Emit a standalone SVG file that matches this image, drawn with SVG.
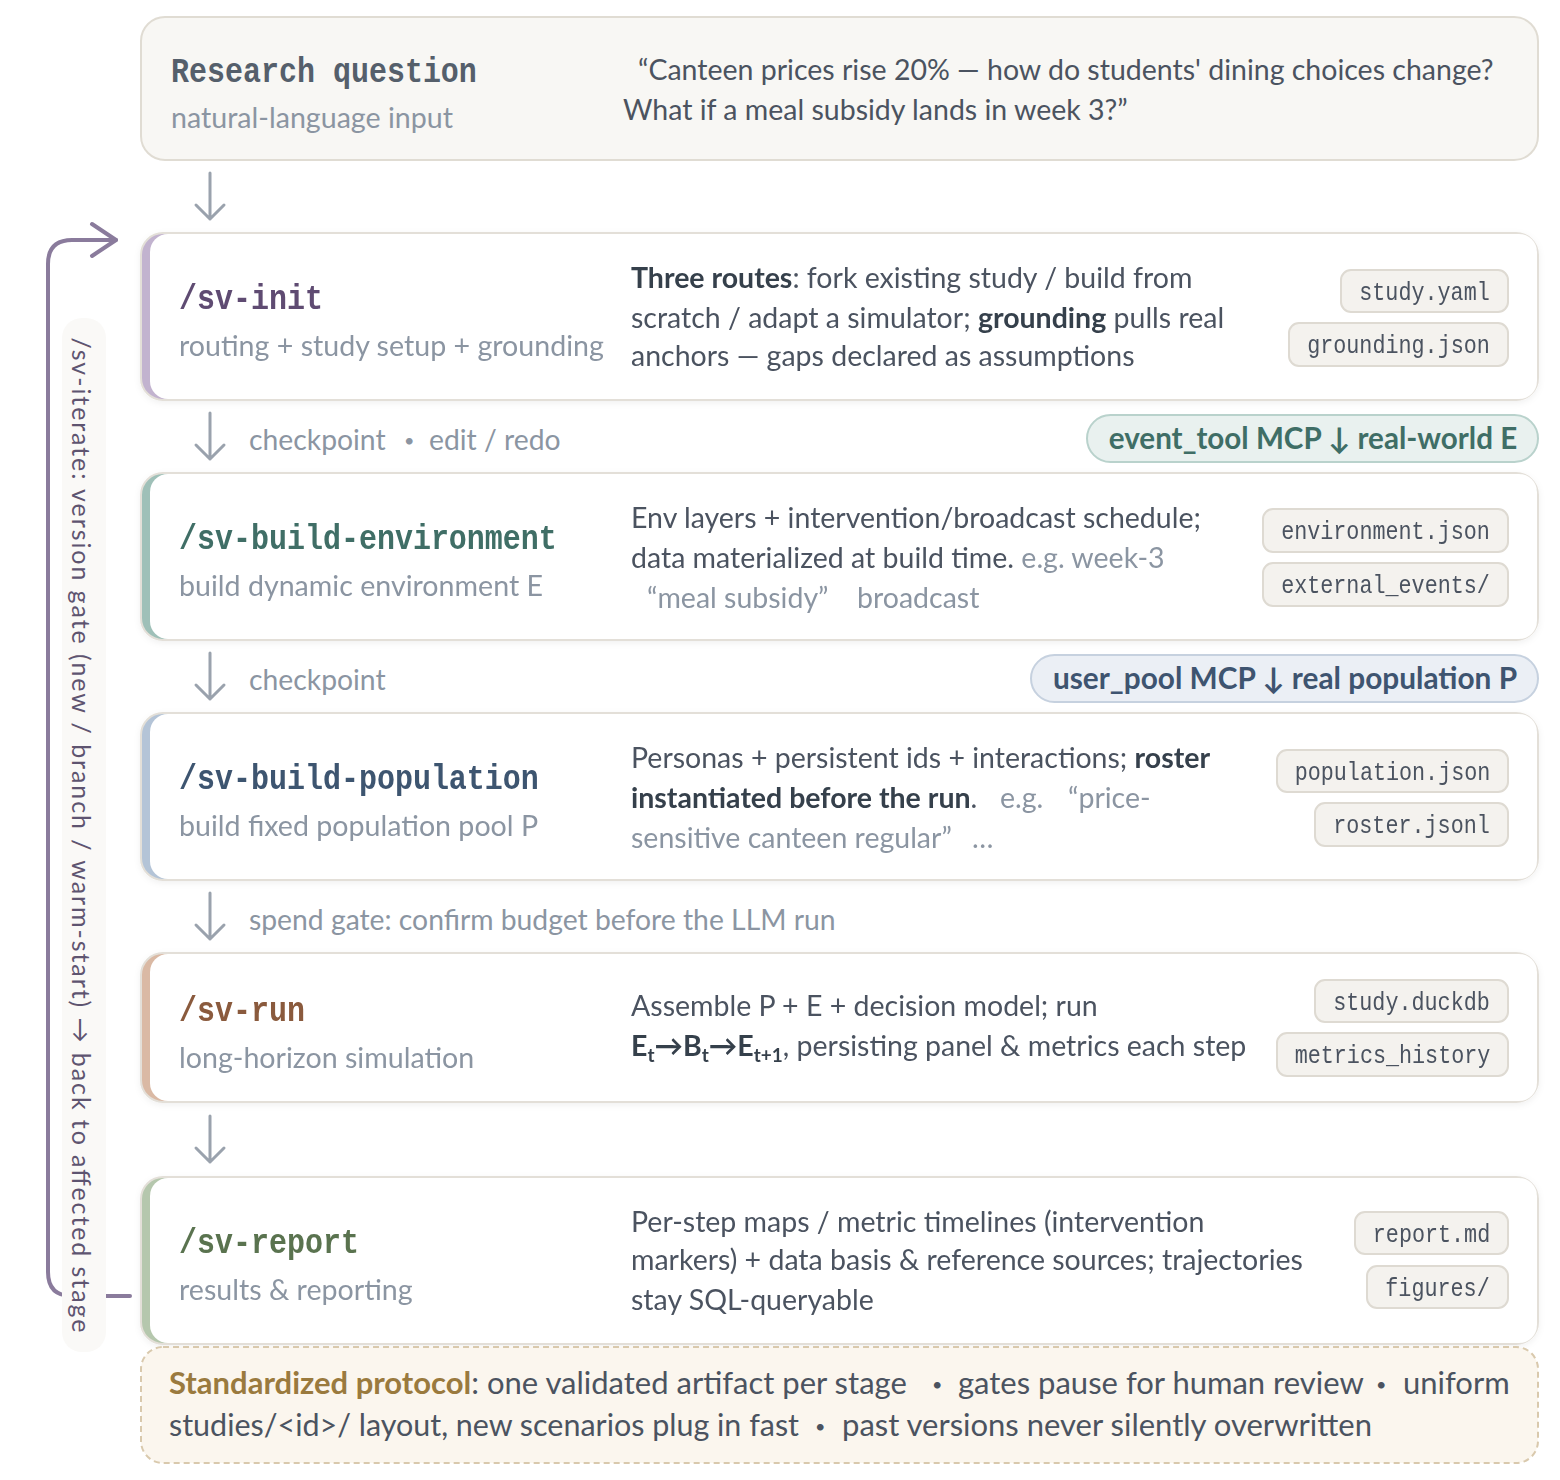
<svg xmlns="http://www.w3.org/2000/svg" width="1560" height="1480" viewBox="0 0 1560 1480">
<defs>
<filter id="sh" x="-5%" y="-20%" width="110%" height="140%">
<feDropShadow dx="0" dy="2" stdDeviation="3" flood-color="#000" flood-opacity="0.06"/>
</filter>
<style>
.sans{font-family:Lato,"Liberation Sans",sans-serif}
.title{font-family:"Liberation Mono","DejaVu Sans Mono",monospace;font-weight:bold;font-size:35px}
.sub{font-family:Lato,"Liberation Sans",sans-serif;font-size:28.6px;fill:#8b95a2}
.body{font-family:Lato,"Liberation Sans",sans-serif;font-size:28.5px;fill:#4b5360}
.prot{font-family:Lato,"Liberation Sans",sans-serif;font-size:31px;fill:#4b5360}
.b{font-weight:bold;fill:#36404c}
.g{fill:#8b95a2}
.gate{font-family:Lato,"Liberation Sans",sans-serif;font-size:28.3px;fill:#8b95a2}
.dot{font-family:Lato,"Liberation Sans",sans-serif;font-size:18px}
.chip rect{fill:#f4f2ee;stroke:#dedad2;stroke-width:2}
.chip text{font-family:"Liberation Mono","DejaVu Sans Mono",monospace;font-size:25px;fill:#4b5360;text-anchor:middle}
.frame{stroke:#e3dfd8;stroke-width:2}
.inner{fill:#ffffff}
.arr{fill:none;stroke:#9aa2ad;stroke-width:3;stroke-linecap:round;stroke-linejoin:round}
</style>
</defs>
<rect width="1560" height="1480" fill="#ffffff"/>

<g id="connectors">
<path class="arr" d="M210,173 V219 M196,205 L210,219 L224,205"/>
<path class="arr" d="M210,413 V459 M196,445 L210,459 L224,445"/>
<path class="arr" d="M210,653 V699 M196,685 L210,699 L224,685"/>
<path class="arr" d="M210,893 V939 M196,925 L210,939 L224,925"/>
<path class="arr" d="M210,1116 V1162 M196,1148 L210,1162 L224,1148"/>
<g id="iterate-loop">
<path d="M130,1296 H72 Q48,1296 48,1272 V264 Q48,240 72,240 H116" fill="none" stroke="#8a7b9c" stroke-width="4" stroke-linecap="round"/>
<path d="M92,224 L116,240 L92,256" fill="none" stroke="#8a7b9c" stroke-width="4" stroke-linecap="round" stroke-linejoin="round"/>
<rect x="62" y="318" width="44" height="1034" rx="20" fill="#faf9f7"/>
<text transform="translate(72,835) rotate(90)" text-anchor="middle" class="sans" font-size="25" fill="#5e5470" textLength="995" lengthAdjust="spacing">/sv-iterate: version gate (new / branch / warm-start) → back to affected stage</text>
</g>
<text class="gate" x="249" y="450">checkpoint</text>
<text class="gate dot" x="404" y="447">•</text>
<text class="gate" x="429" y="450">edit / redo</text>
<text class="gate" x="249" y="690">checkpoint</text>
<text class="gate" x="249" y="930">spend gate: confirm budget before the LLM run</text>
</g>

<g id="research-question">
<rect x="141" y="17" width="1397" height="143" rx="24" fill="#f8f7f4" stroke="#e0dcd3" stroke-width="2"/>
<text class="title" transform="translate(171,82) scale(0.857,1)" fill="#555f6b">Research question</text>
<text class="sub" x="171" y="128">natural-language input</text>
<text class="body" x="638" y="80">“Canteen prices rise 20% — how do students' dining choices change?</text>
<text class="body" x="623" y="120">What if a meal subsidy lands in week 3?”</text>
</g>

<g id="sv-init" filter="url(#sh)">
<rect class="frame" x="141" y="233" width="1397" height="167" rx="22" fill="#c2b3cf"/>
<rect class="inner" x="150" y="234" width="1387" height="165" rx="18"/>
<text class="title" transform="translate(179,309) scale(0.857,1)" fill="#5e4b72">/sv-init</text>
<text class="sub" x="179" y="356">routing + study setup + grounding</text>
<text class="body" x="631" y="288"><tspan class="b">Three routes</tspan>: fork existing study / build from</text>
<text class="body" x="631" y="328">scratch / adapt a simulator; <tspan class="b">grounding</tspan> pulls real</text>
<text class="body" x="631" y="366">anchors — gaps declared as assumptions</text>
<g class="chip"><rect x="1341" y="270" width="167" height="42" rx="10"/><text transform="translate(1424.5,300) scale(0.87,1)">study.yaml</text></g>
<g class="chip"><rect x="1289" y="323" width="219" height="43" rx="10"/><text transform="translate(1398.5,353) scale(0.87,1)">grounding.json</text></g>
</g>

<g id="event-tool-mcp">
<rect x="1087" y="415" width="451" height="47" rx="23.5" fill="#e9f1ef" stroke="#b9d2cc" stroke-width="2"/>
<text x="1313" y="449" text-anchor="middle" class="sans" font-size="29.6" font-weight="bold" fill="#3f6e66">event_tool MCP ↓ real-world E</text>
</g>

<g id="sv-build-environment" filter="url(#sh)">
<rect class="frame" x="141" y="473" width="1397" height="167" rx="22" fill="#9fc0b8"/>
<rect class="inner" x="150" y="474" width="1387" height="165" rx="18"/>
<text class="title" transform="translate(179,549) scale(0.857,1)" fill="#3f6e66">/sv-build-environment</text>
<text class="sub" x="179" y="596">build dynamic environment E</text>
<text class="body" x="631" y="528">Env layers + intervention/broadcast schedule;</text>
<text class="body" x="631" y="568">data materialized at build time. <tspan class="g">e.g. week-3</tspan></text>
<text class="body g" x="647" y="608">“meal subsidy”</text>
<text class="body g" x="857" y="608">broadcast</text>
<g class="chip"><rect x="1263" y="509" width="245" height="43" rx="10"/><text transform="translate(1385.5,539) scale(0.87,1)">environment.json</text></g>
<g class="chip"><rect x="1263" y="563" width="245" height="43" rx="10"/><text transform="translate(1385.5,593) scale(0.87,1)">external_events/</text></g>
</g>

<g id="user-pool-mcp">
<rect x="1031" y="655" width="507" height="47" rx="23.5" fill="#ebeff5" stroke="#c6d1df" stroke-width="2"/>
<text x="1285" y="689" text-anchor="middle" class="sans" font-size="29.8" font-weight="bold" fill="#3e5470">user_pool MCP ↓ real population P</text>
</g>

<g id="sv-build-population" filter="url(#sh)">
<rect class="frame" x="141" y="713" width="1397" height="167" rx="22" fill="#b4c4d7"/>
<rect class="inner" x="150" y="714" width="1387" height="165" rx="18"/>
<text class="title" transform="translate(179,789) scale(0.857,1)" fill="#3e5470">/sv-build-population</text>
<text class="sub" x="179" y="836">build fixed population pool P</text>
<text class="body" x="631" y="768">Personas + persistent ids + interactions; <tspan class="b">roster</tspan></text>
<text class="body" x="631" y="808"><tspan class="b">instantiated before the run</tspan>.</text>
<text class="body g" x="1000" y="808">e.g.</text>
<text class="body g" x="1068" y="808">“price-</text>
<text class="body g" x="631" y="848">sensitive canteen regular”</text>
<text class="body g" x="972" y="848">…</text>
<g class="chip"><rect x="1277" y="750" width="231" height="42" rx="10"/><text transform="translate(1392.5,780) scale(0.87,1)">population.json</text></g>
<g class="chip"><rect x="1315" y="803" width="193" height="43" rx="10"/><text transform="translate(1411.5,833) scale(0.87,1)">roster.jsonl</text></g>
</g>

<g id="sv-run" filter="url(#sh)">
<rect class="frame" x="141" y="953" width="1397" height="149" rx="22" fill="#dab9a4"/>
<rect class="inner" x="150" y="954" width="1387" height="147" rx="18"/>
<text class="title" transform="translate(179,1021) scale(0.857,1)" fill="#8a5a3c">/sv-run</text>
<text class="sub" x="179" y="1068">long-horizon simulation</text>
<text class="body" x="631" y="1016">Assemble P + E + decision model; run</text>
<text class="body" x="631" y="1056"><tspan class="b">E</tspan><tspan class="b" font-size="19" dy="6">t</tspan><tspan class="b" dy="-6">→B</tspan><tspan class="b" font-size="19" dy="6">t</tspan><tspan class="b" dy="-6">→E</tspan><tspan class="b" font-size="19" dy="6">t+1</tspan><tspan dy="-6">, persisting panel &amp; metrics each step</tspan></text>
<g class="chip"><rect x="1315" y="980" width="193" height="42" rx="10"/><text transform="translate(1411.5,1010) scale(0.87,1)">study.duckdb</text></g>
<g class="chip"><rect x="1277" y="1033" width="231" height="43" rx="10"/><text transform="translate(1392.5,1063) scale(0.87,1)">metrics_history</text></g>
</g>

<g id="sv-report" filter="url(#sh)">
<rect class="frame" x="141" y="1177" width="1397" height="167" rx="22" fill="#b5c7ad"/>
<rect class="inner" x="150" y="1178" width="1387" height="165" rx="18"/>
<text class="title" transform="translate(179,1253) scale(0.857,1)" fill="#5a7350">/sv-report</text>
<text class="sub" x="179" y="1300">results &amp; reporting</text>
<text class="body" x="631" y="1232">Per-step maps / metric timelines (intervention</text>
<text class="body" x="631" y="1270">markers) + data basis &amp; reference sources; trajectories</text>
<text class="body" x="631" y="1310">stay SQL-queryable</text>
<g class="chip"><rect x="1355" y="1212" width="153" height="42" rx="10"/><text transform="translate(1431.5,1242) scale(0.87,1)">report.md</text></g>
<g class="chip"><rect x="1367" y="1266" width="141" height="42" rx="10"/><text transform="translate(1437.5,1296) scale(0.87,1)">figures/</text></g>
</g>

<g id="standardized-protocol">
<rect x="141" y="1347" width="1397" height="116" rx="22" fill="#fbf6ee" stroke="#d9c9ad" stroke-width="2" stroke-dasharray="6 4"/>
<text class="prot" x="169" y="1394"><tspan font-weight="bold" fill="#9a7a3e">Standardized protocol</tspan>: one validated artifact per stage</text>
<text class="prot dot" x="932" y="1391">•</text>
<text class="prot" x="958" y="1394">gates pause for human review</text>
<text class="prot dot" x="1376" y="1391">•</text>
<text class="prot" x="1403" y="1394">uniform</text>
<text class="prot" x="169" y="1436" textLength="630" lengthAdjust="spacingAndGlyphs">studies/&lt;id&gt;/ layout, new scenarios plug in fast</text>
<text class="prot dot" x="815" y="1433">•</text>
<text class="prot" x="842" y="1436">past versions never silently overwritten</text>
</g>
</svg>
